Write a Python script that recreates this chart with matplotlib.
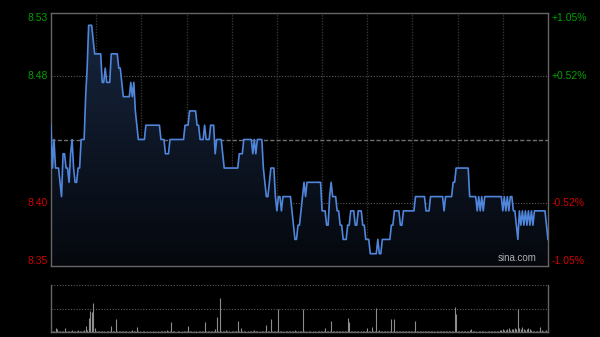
import matplotlib
matplotlib.use("Agg")

import matplotlib.pyplot as plt
import matplotlib.transforms as mtransforms
import numpy as np

# intraday prices, one per minute (09:30-12:00, 13:00-16:00 -> 331 points)
prices = [
    8.45, 8.42, 8.44, 8.42, 8.42, 8.42, 8.41, 8.40, 8.43, 8.43,
    8.42, 8.42, 8.41, 8.43, 8.44, 8.42, 8.41, 8.41, 8.42, 8.42,
    8.44, 8.44, 8.44, 8.47, 8.49, 8.52, 8.52, 8.52, 8.51, 8.50,
    8.50, 8.50, 8.50, 8.50, 8.48, 8.48, 8.49, 8.48, 8.48, 8.48,
    8.50, 8.50, 8.50, 8.50, 8.50, 8.49, 8.49, 8.48, 8.47, 8.47,
    8.47, 8.47, 8.47, 8.48, 8.47, 8.48, 8.46, 8.45, 8.44, 8.44,
    8.44, 8.44, 8.44, 8.45, 8.45, 8.45, 8.45, 8.45, 8.45, 8.45,
    8.45, 8.45, 8.45, 8.44, 8.44, 8.44, 8.43, 8.43, 8.43, 8.44,
    8.44, 8.44, 8.44, 8.44, 8.44, 8.44, 8.44, 8.44, 8.44, 8.45,
    8.45, 8.45, 8.46, 8.46, 8.46, 8.46, 8.46, 8.45, 8.45, 8.44,
    8.44, 8.44, 8.45, 8.44, 8.44, 8.44, 8.45, 8.45, 8.45, 8.43,
    8.44, 8.44, 8.44, 8.44, 8.43, 8.42, 8.42, 8.42, 8.42, 8.42,
    8.42, 8.42, 8.42, 8.42, 8.42, 8.43, 8.43, 8.43, 8.44, 8.44,
    8.44, 8.44, 8.44, 8.44, 8.43, 8.44, 8.43, 8.44, 8.44, 8.44,
    8.44, 8.42, 8.41, 8.40, 8.40, 8.41, 8.42, 8.42, 8.42, 8.40,
    8.39, 8.40, 8.40, 8.39, 8.40, 8.40, 8.40, 8.40, 8.40, 8.40,
    8.39, 8.38, 8.37, 8.37, 8.38, 8.38, 8.39, 8.40, 8.41, 8.40,
    8.41, 8.41, 8.41, 8.41, 8.41, 8.41, 8.41, 8.41, 8.41, 8.41,
    8.39, 8.39, 8.39, 8.38, 8.38, 8.40, 8.41, 8.40, 8.40, 8.40,
    8.39, 8.39, 8.38, 8.38, 8.37, 8.37, 8.37, 8.38, 8.38, 8.39,
    8.39, 8.39, 8.38, 8.38, 8.39, 8.39, 8.39, 8.38, 8.38, 8.37,
    8.37, 8.37, 8.36, 8.36, 8.36, 8.36, 8.36, 8.37, 8.36, 8.36,
    8.37, 8.37, 8.37, 8.37, 8.37, 8.37, 8.38, 8.38, 8.39, 8.39,
    8.39, 8.39, 8.38, 8.38, 8.39, 8.39, 8.39, 8.39, 8.39, 8.39,
    8.39, 8.39, 8.40, 8.40, 8.40, 8.40, 8.40, 8.40, 8.40, 8.39,
    8.39, 8.39, 8.40, 8.40, 8.40, 8.40, 8.40, 8.40, 8.40, 8.40,
    8.40, 8.39, 8.40, 8.40, 8.40, 8.40, 8.40, 8.41, 8.41, 8.42,
    8.42, 8.42, 8.42, 8.42, 8.42, 8.42, 8.42, 8.42, 8.40, 8.40,
    8.40, 8.40, 8.40, 8.39, 8.40, 8.39, 8.40, 8.39, 8.40, 8.40,
    8.40, 8.40, 8.40, 8.40, 8.40, 8.40, 8.40, 8.40, 8.40, 8.40,
    8.39, 8.40, 8.39, 8.40, 8.39, 8.40, 8.40, 8.39, 8.39, 8.38,
    8.37, 8.39, 8.38, 8.39, 8.38, 8.39, 8.38, 8.39, 8.38, 8.39,
    8.38, 8.39, 8.39, 8.39, 8.39, 8.39, 8.39, 8.39, 8.39, 8.38,
    8.37,
]

# per-minute volume, thousands of shares
volumes = [
    93, 15, 12, 43, 30, 10, 12, 15, 8, 40,
    12, 8, 10, 6, 20, 8, 10, 6, 25, 10,
    12, 15, 20, 60, 25, 140, 210, 200, 290, 40,
    12, 8, 10, 6, 8, 10, 5, 8, 6, 10,
    60, 8, 10, 130, 12, 8, 6, 8, 10, 6,
    8, 5, 6, 8, 20, 6, 8, 50, 10, 6,
    5, 6, 8, 5, 6, 4, 6, 5, 8, 6,
    5, 6, 4, 6, 8, 6, 10, 25, 8, 10,
    100, 8, 6, 5, 6, 8, 5, 6, 8, 10,
    8, 60, 10, 6, 5, 6, 8, 5, 6, 8,
    10, 8, 100, 12, 8, 6, 10, 8, 6, 30,
    150, 12, 340, 15, 10, 8, 25, 6, 8, 5,
    6, 8, 10, 12, 110, 15, 40, 10, 8, 6,
    5, 6, 8, 10, 15, 20, 8, 6, 5, 8,
    6, 10, 12, 70, 15, 10, 130, 12, 8, 10,
    15, 230, 10, 8, 6, 5, 8, 6, 10, 8,
    6, 8, 25, 10, 8, 6, 10, 230, 8, 6,
    5, 8, 6, 5, 6, 8, 5, 6, 8, 10,
    8, 12, 40, 15, 10, 8, 110, 12, 8, 10,
    6, 8, 15, 10, 8, 12, 10, 140, 100, 12,
    8, 6, 10, 8, 6, 5, 8, 6, 10, 12,
    40, 10, 15, 50, 8, 10, 240, 12, 20, 10,
    15, 8, 10, 12, 8, 10, 130, 12, 130, 10,
    8, 10, 6, 8, 10, 6, 15, 8, 10, 6,
    8, 10, 110, 12, 8, 6, 10, 8, 6, 15,
    8, 6, 10, 8, 6, 5, 8, 6, 10, 8,
    6, 8, 10, 6, 8, 10, 12, 15, 250, 180,
    10, 8, 6, 10, 8, 12, 10, 15, 20, 30,
    10, 8, 6, 5, 8, 6, 10, 8, 6, 5,
    8, 6, 10, 8, 12, 15, 10, 8, 20, 25,
    30, 20, 25, 30, 40, 25, 30, 35, 40, 30,
    230, 40, 35, 50, 30, 25, 35, 40, 30, 20,
    15, 10, 12, 8, 10, 50, 20, 15, 10, 20,
    30,
]

PREV_CLOSE = 8.44
MAX_PCT = 1.05
price_labels = ["8.53", "8.48", "8.40", "8.35"]
pct_labels = ["+1.05%", "+0.52%", "-0.52%", "-1.05%"]
label_fracs = [1.0, 0.5, -0.5, -1.0]

UP = "#00a000"
DOWN = "#d00000"
LINE = "#4f86dc"
BORDER = "#666666"


def main() -> None:
    plt.rcParams["font.family"] = ["Liberation Sans", "DejaVu Sans"]

    fig = plt.figure(figsize=(6.0, 3.37), dpi=100, facecolor="black")
    ax = fig.add_axes([51 / 600, 1 - 266 / 337, 497 / 600, 253 / 337])
    axv = fig.add_axes([51 / 600, 1 - 332 / 337, 497 / 600, 47 / 337])

    x = np.arange(len(prices))
    y = np.array(prices)
    span = PREV_CLOSE * MAX_PCT / 100
    lo, hi = PREV_CLOSE - span, PREV_CLOSE + span

    for a in (ax, axv):
        a.set_facecolor("black")
        a.set_xlim(0, 330)
        a.set_xticks([])
        a.set_yticks([])
        for s in a.spines.values():
            s.set_color(BORDER)
            s.set_linewidth(1.0)

    ax.set_ylim(lo, hi)

    # vertical half-hour grid
    for m in range(30, 330, 30):
        ax.axvline(m, color="#333333", lw=1.0, ls=(0, (1, 1)), zorder=1)
    # quarter lines and previous close
    ax.axhline(PREV_CLOSE + span / 2, color="#5a5a5a", lw=0.8, ls=(0, (1, 1.5)), zorder=1)
    ax.axhline(PREV_CLOSE - span / 2, color="#5a5a5a", lw=0.8, ls=(0, (1, 1.5)), zorder=1)
    ax.axhline(PREV_CLOSE, color="#707070", lw=1.0, ls=(0, (3, 1.5)), zorder=1)

    # gradient fill under the price line
    poly = ax.fill_between(x, y, lo, color="none", lw=0)
    grad = np.linspace(1, 0, 256).reshape(-1, 1)
    top_c = np.array([0.09, 0.15, 0.25])
    bot_c = np.array([0.02, 0.03, 0.05])
    img = bot_c + (top_c - bot_c) * grad[..., None]
    im = ax.imshow(img, extent=[0, 330, lo, hi], aspect="auto", origin="upper", zorder=2)
    im.set_clip_path(poly.get_paths()[0], transform=ax.transData)

    ax.plot(x, y, color=LINE, lw=1.2, zorder=3)

    # axis labels on both sides
    trans_l = mtransforms.blended_transform_factory(ax.transAxes, ax.transData)
    for frac, plab, pclab in zip(label_fracs, price_labels, pct_labels):
        val = PREV_CLOSE + frac * span
        va = "top" if frac == 1.0 else ("bottom" if frac == -1.0 else "center")
        col = UP if frac > 0 else DOWN
        ax.text(-0.006, val, plab, transform=trans_l, ha="right", va=va,
                color=col, fontsize=7.5)
        ax.text(1.008, val, pclab, transform=trans_l, ha="left", va=va,
                color=col, fontsize=7.5)

    ax.text(0.978, 0.012, "sina.com", transform=ax.transAxes, ha="right",
            va="bottom", color="#b0b0b0", fontsize=7, zorder=4)

    # volume panel
    vmax = 470
    axv.set_ylim(0, vmax)
    axv.spines["top"].set_visible(False)
    axv.axhline(vmax, color="#5a5a5a", lw=0.8, ls=(0, (1, 1.5)))
    axv.axhline(vmax / 2, color="#5a5a5a", lw=0.8, ls=(0, (1, 1.5)))
    axv.vlines(np.arange(len(volumes)), 0, volumes, color="#8c8c8c", lw=0.8)

    fig.savefig("out.png", dpi=100, facecolor="black")


if __name__ == "__main__":
    main()
